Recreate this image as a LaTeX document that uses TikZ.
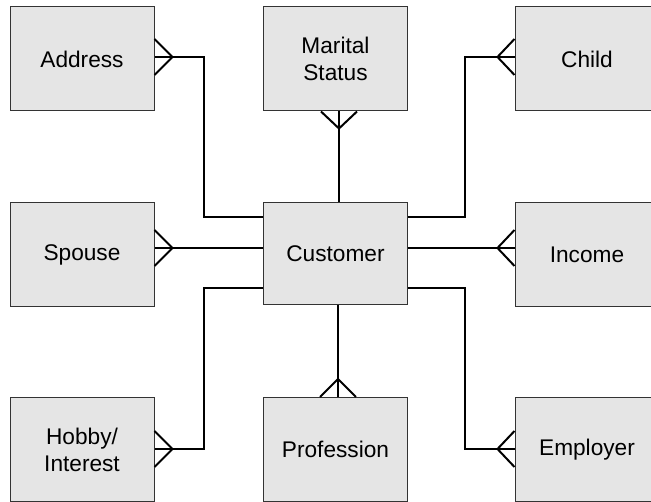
\documentclass[tikz,border=0pt]{standalone}
\usepackage{fontspec}
\setmainfont{Liberation Sans}
\begin{document}
\begin{tikzpicture}[x=0.75pt,y=-0.75pt,
  entity/.style={draw=black!80,line width=0.75pt,fill=black!10,
    minimum width=108pt,minimum height=78pt,inner sep=0pt,align=center,
    font=\fontsize{17}{20.25}\selectfont},
  conn/.style={line width=1.5pt,line join=miter},
  thinconn/.style={line width=1pt},
  foot/.style={line width=1.5pt,line join=miter}]
\useasboundingbox (0,0) rectangle (651,502);
\clip (0,0) rectangle (651,502);

% entities
\node[entity] (addr)    at (82,59)    {Address};
\node[entity] (marital) at (335.5,59) {Marital\\Status};
\node[entity] (child)   at (587,59)   {Child};
\node[entity] (spouse)  at (82,254.5) {Spouse};
\node[entity,minimum height=76.5pt] (cust) at (335.5,254) {Customer};
\node[entity] (income)  at (587,254.5) {Income};
\node[entity] (hobby)   at (82,449.5) {Hobby/\\Interest};
\node[entity] (prof)    at (335.5,449.5) {Profession};
\node[entity] (empl)    at (587,449.5) {Employer};

% connectors from Customer
\draw[conn] (addr.east |- 0,57) -- (204,57) -- (204,217) -- (cust.west |- 0,217);
\draw[conn] (spouse.east |- 0,248) -- (cust.west |- 0,248);
\draw[conn] (hobby.east |- 0,449) -- (204,449) -- (204,288) -- (cust.west |- 0,288);
\draw[thinconn] (marital.south -| 339,0) -- (cust.north -| 339,0);
\draw[conn] (cust.south -| 338,0) -- (prof.north -| 338,0);
\draw[conn] (child.west |- 0,57) -- (465,57) -- (465,217) -- (cust.east |- 0,217);
\draw[conn] (income.west |- 0,248) -- (cust.east |- 0,248);
\draw[conn] (empl.west |- 0,449) -- (465,449) -- (465,288) -- (cust.east |- 0,288);

% crow's feet at the many ends
\draw[foot] ([shift={(0,-18)}]addr.east |- 0,57) -- ([shift={(18,0)}]addr.east |- 0,57) -- ([shift={(0,18)}]addr.east |- 0,57);
\draw[foot] ([shift={(0,-18)}]spouse.east |- 0,248) -- ([shift={(18,0)}]spouse.east |- 0,248) -- ([shift={(0,18)}]spouse.east |- 0,248);
\draw[foot] ([shift={(0,-18)}]hobby.east |- 0,449) -- ([shift={(18,0)}]hobby.east |- 0,449) -- ([shift={(0,18)}]hobby.east |- 0,449);
\draw[foot] ([shift={(0,-18)}]child.west |- 0,57) -- ([shift={(-17,0)}]child.west |- 0,57) -- ([shift={(0,18)}]child.west |- 0,57);
\draw[foot] ([shift={(0,-18)}]income.west |- 0,248) -- ([shift={(-17,0)}]income.west |- 0,248) -- ([shift={(0,18)}]income.west |- 0,248);
\draw[foot] ([shift={(0,-18)}]empl.west |- 0,449) -- ([shift={(-17,0)}]empl.west |- 0,449) -- ([shift={(0,18)}]empl.west |- 0,449);
\draw[foot] ([shift={(-18,0)}]marital.south -| 339,0) -- ([shift={(0,17)}]marital.south -| 339,0) -- ([shift={(18,0)}]marital.south -| 339,0);
\draw[foot] ([shift={(-18,0)}]prof.north -| 338,0) -- ([shift={(0,-18)}]prof.north -| 338,0) -- ([shift={(18,0)}]prof.north -| 338,0);
\end{tikzpicture}
\end{document}
